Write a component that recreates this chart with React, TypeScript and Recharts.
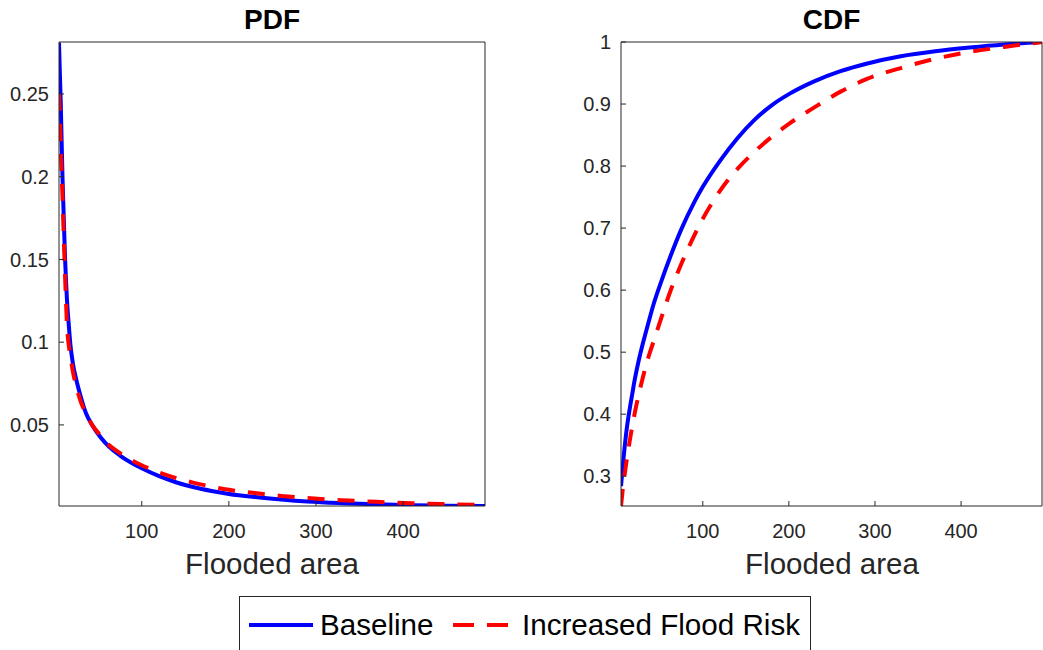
import { LineChart, Line, XAxis, YAxis } from "recharts"

const floodedArea = [5, 6, 7, 8, 9, 10, 11, 12, 13, 14, 16, 18, 21, 25, 30, 36, 43, 52, 62, 75, 90, 100, 120, 140, 160, 180, 200, 230, 260, 290, 330, 370, 410, 450, 494]

const pdfBaseline = [0.281, 0.262, 0.245, 0.222, 0.2, 0.183, 0.166, 0.15, 0.138, 0.127, 0.112, 0.099, 0.087, 0.077, 0.067, 0.057, 0.05, 0.043, 0.037, 0.0315, 0.0265, 0.0238, 0.019, 0.0152, 0.0123, 0.0101, 0.0083, 0.0064, 0.0049, 0.0037, 0.0027, 0.002, 0.0015, 0.0012, 0.001]
const pdfIncreased = [0.25, 0.235, 0.218, 0.203, 0.188, 0.171, 0.155, 0.139, 0.125, 0.112, 0.099, 0.092, 0.082, 0.073, 0.064, 0.057, 0.05, 0.044, 0.038, 0.033, 0.0282, 0.0256, 0.0213, 0.0178, 0.015, 0.0127, 0.0108, 0.0088, 0.0071, 0.0058, 0.0045, 0.0035, 0.0027, 0.0021, 0.0016]

const cdfBaseline = [0.284, 0.3, 0.315, 0.33, 0.344, 0.357, 0.369, 0.38, 0.39, 0.399, 0.416, 0.432, 0.456, 0.483, 0.512, 0.543, 0.578, 0.615, 0.653, 0.698, 0.7415, 0.7665, 0.8085, 0.8445, 0.8745, 0.898, 0.916, 0.937, 0.953, 0.965, 0.977, 0.985, 0.991, 0.996, 1.0]
const cdfIncreased = [0.252, 0.265, 0.278, 0.29, 0.3, 0.31, 0.32, 0.329, 0.338, 0.347, 0.364, 0.38, 0.402, 0.428, 0.457, 0.488, 0.518, 0.556, 0.597, 0.642, 0.688, 0.715, 0.76, 0.795, 0.823, 0.847, 0.868, 0.895, 0.92, 0.94, 0.958, 0.973, 0.984, 0.992, 1.0]

const xTicks = [100, 200, 300, 400]
const pdfTicks = [0.05, 0.1, 0.15, 0.2, 0.25]
const cdfTicks = [0.3, 0.4, 0.5, 0.6, 0.7, 0.8, 0.9, 1]

const pdfData = floodedArea.map((x, i) => ({ x, baseline: pdfBaseline[i], increased: pdfIncreased[i] }))
const cdfData = floodedArea.map((x, i) => ({ x, baseline: cdfBaseline[i], increased: cdfIncreased[i] }))

const FONT = '"Liberation Sans", Arial, Helvetica, sans-serif'
const AXIS = "#262626"
const tickStyle = { fontSize: 20, fill: AXIS, fontFamily: FONT }

function Panel({ data, yDomain, yTicks, width, leftW, rightW }: any) {
  return (
    <LineChart width={width} height={600} data={data} margin={{ top: 0, right: 0, bottom: 0, left: 0 }}>
      <XAxis
        dataKey="x"
        type="number"
        domain={[5, 494]}
        ticks={xTicks}
        height={94}
        tickSize={-5}
        tickMargin={23}
        stroke={AXIS}
        tick={tickStyle}
        allowDataOverflow
      />
      <XAxis xAxisId="top" orientation="top" dataKey="x" type="number" domain={[5, 494]} ticks={xTicks} height={42} tickSize={-5} tick={false} stroke={AXIS} allowDataOverflow />
      <YAxis
        type="number"
        domain={yDomain}
        ticks={yTicks}
        width={leftW}
        tickSize={-5}
        tickMargin={15}
        stroke={AXIS}
        tick={tickStyle}
        allowDataOverflow
      />
      <YAxis yAxisId="r" orientation="right" type="number" domain={yDomain} ticks={yTicks} width={rightW} tickSize={-5} tick={false} stroke={AXIS} allowDataOverflow />
      <Line type="monotone" dataKey="baseline" stroke="#0000ff" strokeWidth={4} dot={false} isAnimationActive={false} />
      <Line type="monotone" dataKey="increased" stroke="#ff0000" strokeWidth={4} strokeDasharray="17 13" dot={false} isAnimationActive={false} />
    </LineChart>
  )
}

export default function App() {
  return (
    <div style={{ position: "relative", width: 1043, height: 650, overflow: "hidden", background: "#fff" }}>
      <style>{"body{margin:0}"}</style>
      <div style={{ position: "absolute", left: 0, top: 0 }}>
        <Panel data={pdfData} yDomain={[0.001, 0.2814]} yTicks={pdfTicks} width={520} leftW={59} rightW={35} />
      </div>
      <div style={{ position: "absolute", left: 560, top: 0 }}>
        <Panel data={cdfData} yDomain={[0.252, 1]} yTicks={cdfTicks} width={483} leftW={61} rightW={1} />
      </div>
      <svg width={1043} height={650} style={{ position: "absolute", left: 0, top: 0, pointerEvents: "none" }} fontFamily={FONT}>
        <text x={272} y={29} textAnchor="middle" fontSize={28} fontWeight="bold" fill="#000">PDF</text>
        <text x={831.5} y={29} textAnchor="middle" fontSize={28} fontWeight="bold" fill="#000">CDF</text>
        <text x={272} y={574} textAnchor="middle" fontSize={29.5} fill={AXIS}>Flooded area</text>
        <text x={832} y={574} textAnchor="middle" fontSize={29.5} fill={AXIS}>Flooded area</text>
        <rect x={239.5} y={596.5} width={571} height={80} fill="#fff" stroke={AXIS} strokeWidth={1} />
        <line x1={249} y1={625} x2={313} y2={625} stroke="#0000ff" strokeWidth={4} />
        <text x={320} y={635} fontSize={29.6} fill="#000">Baseline</text>
        <line x1={453} y1={625} x2={508} y2={625} stroke="#ff0000" strokeWidth={4} strokeDasharray="21 13" />
        <text x={522} y={635} fontSize={29.6} fill="#000">Increased Flood Risk</text>
      </svg>
    </div>
  )
}
